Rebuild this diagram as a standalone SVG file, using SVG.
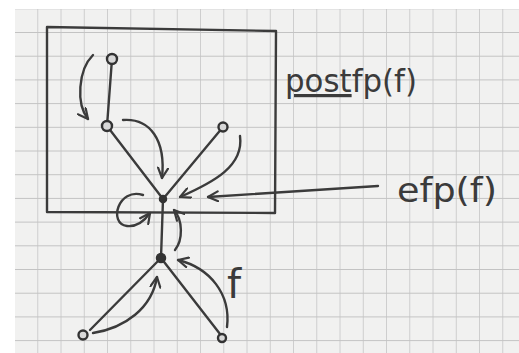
<svg xmlns="http://www.w3.org/2000/svg" width="519" height="353" viewBox="0 0 519 353">
<defs>
<pattern id="grid" x="15" y="9.3" width="23.25" height="23.7" patternUnits="userSpaceOnUse">
<rect width="23.25" height="23.7" fill="#f1f1f0"/>
<line x1="23.5" y1="0" x2="23.5" y2="23.7" stroke="#c3c3c3" stroke-width="2"/>
<line x1="0" y1="23.7" x2="23.25" y2="23.7" stroke="#c3c3c3" stroke-width="2"/>
</pattern>
<marker id="ah" viewBox="0 0 12 12" refX="11" refY="6" markerWidth="12" markerHeight="12" markerUnits="userSpaceOnUse" orient="auto">
<path d="M1 1 L11 6 L1 11" fill="none" stroke="#3b3b3b" stroke-width="2.2" stroke-linecap="round" stroke-linejoin="round"/>
</marker>
</defs>
<style>
.pen{fill:none;stroke:#3b3b3b;stroke-width:2.4;stroke-linecap:round;stroke-linejoin:round}
.arr{fill:none;stroke:#3b3b3b;stroke-width:2.4;stroke-linecap:round;marker-end:url(#ah)}
.open{fill:#d8d8d8;stroke:#333;stroke-width:2.4}
.dot{fill:#333;stroke:#333;stroke-width:1.5}
.lbl{font-family:"DejaVu Sans","Liberation Sans",sans-serif;fill:#3b3b3b}
</style>
<rect width="519" height="353" fill="#ffffff"/>
<rect x="15" y="9" width="504" height="344" fill="url(#grid)"/>

<g id="box">
<path class="pen" d="M47 27 L276 31 L275 213 L47 212 Z"/>
</g>

<g id="connectors">
<line class="pen" x1="112" y1="59" x2="107" y2="126"/>
<line class="pen" x1="107" y1="126" x2="163" y2="199"/>
<line class="pen" x1="223" y1="127" x2="163" y2="199"/>
<line class="pen" x1="163" y1="199" x2="161" y2="258"/>
<line class="pen" x1="161" y1="258" x2="90" y2="330"/>
<line class="pen" x1="161" y1="258" x2="220" y2="334"/>
<path class="arr" d="M93 55 C78 70 76 104 88 119"/>
<path class="arr" d="M123 120 C150 118 166 140 162 178"/>
<path class="arr" d="M240 136 C244 166 214 182 180 197"/>
<path class="arr" d="M378 186 L208 197"/>
<path class="arr" d="M143 195 C118 187 108 224 127 226 C137 227 145 220 150 213"/>
<path class="arr" d="M175 250 C183 240 183 220 174 210"/>
<path class="arr" d="M93 333 C125 328 152 308 157 277"/>
<path class="arr" d="M227 327 C231 294 210 268 178 260"/>
</g>

<g id="n-a"><circle class="open" cx="112" cy="59" r="5"/></g>
<g id="n-b"><circle class="open" cx="107" cy="126" r="5"/></g>
<g id="n-c"><circle class="open" cx="223" cy="127" r="4.5"/></g>
<g id="n-d"><circle class="dot" cx="163" cy="199" r="3.5"/></g>
<g id="n-e"><circle class="dot" cx="161" cy="258" r="4.5"/></g>
<g id="n-f"><circle class="open" cx="83" cy="335" r="4.5"/></g>
<g id="n-g"><circle class="open" cx="222" cy="338" r="4"/></g>

<g id="labels">
<text class="lbl" x="285" y="92" font-size="32" textLength="132" lengthAdjust="spacingAndGlyphs"><tspan text-decoration="underline">post</tspan>fp(f)</text>
<text class="lbl" x="397" y="202" font-size="34" textLength="100" lengthAdjust="spacingAndGlyphs">efp(f)</text>
<text class="lbl" x="227" y="298" font-size="40">f</text>
</g>
</svg>
